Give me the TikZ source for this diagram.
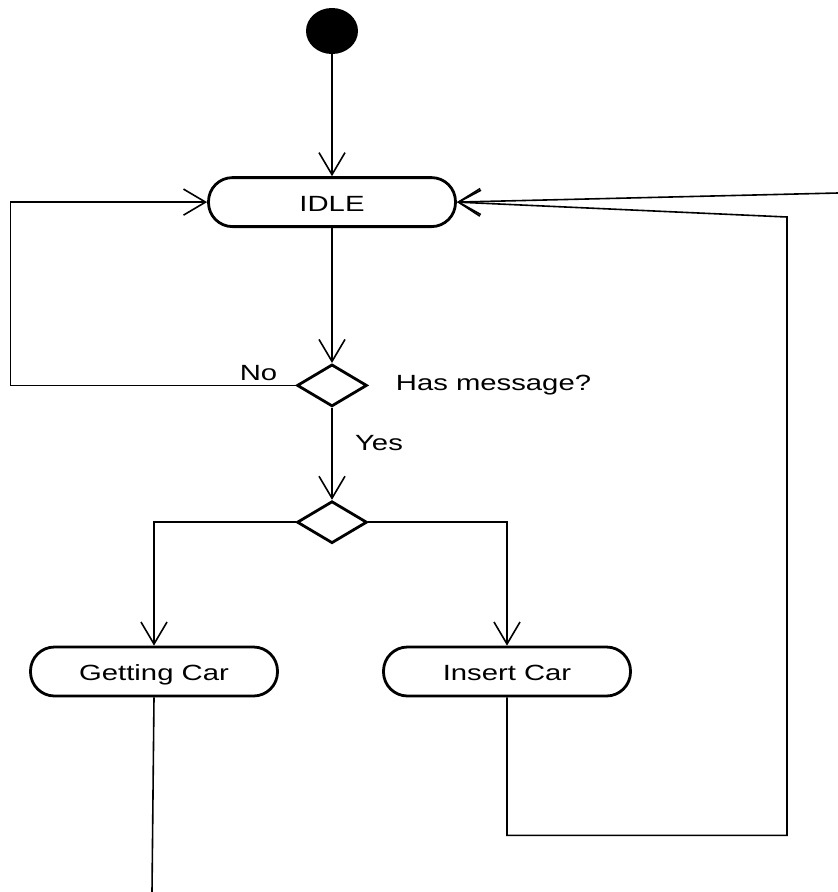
\documentclass[tikz,border=0pt]{standalone}
\usepackage{fontspec}
\setmainfont{Liberation Sans}[FakeStretch=1.33]
\usetikzlibrary{arrows.meta, positioning, shapes.geometric}

\begin{document}
\begin{tikzpicture}[
  x=1pt, y=1pt,
  font=\fontsize{22pt}{26pt}\selectfont,
  state/.style={draw, line width=2.8pt, rounded corners=24pt, minimum width=247pt, minimum height=49pt, inner sep=0pt, text height=20pt, text depth=2pt},
  decision/.style={draw, diamond, line width=2.8pt, minimum width=70pt, minimum height=42pt, inner sep=0pt},
  initial/.style={ellipse, fill=black, minimum width=52pt, minimum height=46pt, inner sep=0pt},
  arr/.style={-{Straight Barb[length=22pt, width=26pt]}, line width=1.6pt},
  flow/.style={line width=1.6pt}
]
\useasboundingbox (0,0) rectangle (838,-892);

\node[initial] (start) at (332,-31) {};
\node[state, below=122pt of start] (idle) {IDLE};
\node[decision, below=135pt of idle, label={[label distance=24pt]right:Has message?}] (hasmsg) {};
\node[decision, below=92pt of hasmsg] (fork) {};
\node[state, below=101pt of fork, xshift=-178pt] (getcar) {Getting Car};
\node[state, below=101pt of fork, xshift=175pt] (insertcar) {Insert Car};

\coordinate (gcend) at (152,-892);
\coordinate (loopturn) at (787,-217);
\coordinate (incoming) at (838,-193);

\draw[arr] (start) -- (idle);
\draw[arr] (idle) -- (hasmsg);
\draw[arr] (hasmsg.west) -- node[pos=0.13, above=1pt] {No} ++(-285,0) |- (idle.west);
\draw[arr] (hasmsg) -- node[pos=0.38, right=19pt] {Yes} (fork);
\draw[arr] (fork.west) -| (getcar.north);
\draw[arr] (fork.east) -| (insertcar.north);
\draw[flow] (getcar.south) -- (gcend);
\draw[arr] (insertcar.south) -- ++(0,-138) -| (loopturn) -- (idle.east);
\draw[arr] (incoming) -- (idle.east);
\end{tikzpicture}
\end{document}
